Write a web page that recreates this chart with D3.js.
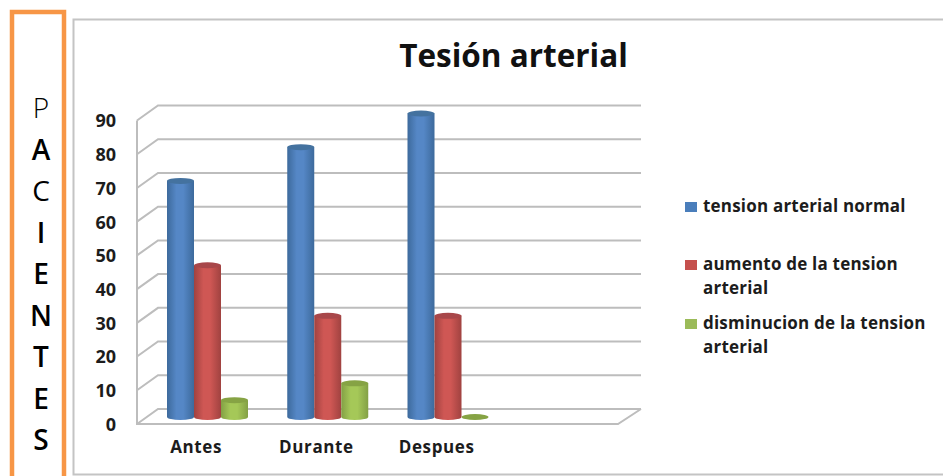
<!DOCTYPE html>
<html lang="es">
<head>
<meta charset="utf-8">
<title>Tesión arterial</title>
<script src="https://cdn.jsdelivr.net/npm/d3@7"></script>
<style>
  html, body { margin: 0; padding: 0; background: #fff; }
  svg { display: block; }
  text { font-family: "Open Sans", sans-serif; fill: #1c1c1c; }
</style>
</head>
<body>
<svg id="chart" width="943" height="476"></svg>
<script>
// Chart data
const categories = ["Antes", "Durante", "Despues", ""];
const seriesNames = ["tension arterial normal", "aumento de la tension arterial", "disminucion de la tension arterial"];
const normal = [70, 80, 90, null];
const aumento = [45, 30, 30, null];
const disminucion = [5, 10, 0, null];
const yTicks = [0, 10, 20, 30, 40, 50, 60, 70, 80, 90];
const sideLetters = ["P", "A", "C", "I", "E", "N", "T", "E", "S"];
const legendLines = [["tension arterial normal"], ["aumento de la tension", "arterial"], ["disminucion de la tension", "arterial"]];

const seriesValues = [normal, aumento, disminucion];
const palette = [
  { edge: "#3d6a9c", mid: "#5587c6", top: "#44729f", key: "#4a7ebb" },
  { edge: "#a04240", mid: "#cf5754", top: "#a8474a", key: "#c5504d" },
  { edge: "#83a045", mid: "#a5c858", top: "#86a344", key: "#9bbb59" }
];

const svg = d3.select("#chart");

// Perspective of the 3D box: the back wall sits up and to the right of the front plane
const depthX = 21, depthY = -15;
const barDepthX = 7.5, barDepthY = -7;

const y = d3.scaleLinear().domain([0, 90]).range([424, 120.5]);
const x = d3.scaleBand().domain(categories).range([137, 618]);
const xSeries = d3.scaleBand().domain(d3.range(seriesNames.length)).range([22.5, 103.5]);

// Side panel with the vertical label
svg.append("rect")
  .attr("x", 12).attr("y", 12).attr("width", 52).attr("height", 480)
  .attr("fill", "none").attr("stroke", "#f79646").attr("stroke-width", 4.5);

const letterRows = d3.scalePoint().domain(d3.range(sideLetters.length)).range([108, 440]);
svg.append("g").selectAll("text").data(sideLetters).join("text")
  .attr("x", 41)
  .attr("y", (d, i) => letterRows(i))
  .attr("dy", "0.36em")
  .attr("text-anchor", "middle")
  .attr("font-size", 28)
  .attr("font-weight", (d, i) => i === 0 ? 300 : i === 2 ? 400 : 600)
  .style("fill", "#000")
  .text(d => d);

// Chart frame
svg.append("path")
  .attr("d", "M945,19.5H73.5V474.5H945")
  .attr("fill", "none").attr("stroke", "#c4c4c4").attr("stroke-width", 2);

// Title
svg.append("text")
  .attr("x", 513.5).attr("y", 67)
  .attr("text-anchor", "middle")
  .attr("font-size", 31.5).attr("font-weight", 700)
  .style("fill", "#111")
  .text("Tesión arterial");

// Walls and floor
const grid = svg.append("g").attr("fill", "none").attr("stroke", "#bdbdbd").attr("stroke-width", 2);
const x0 = x.range()[0], x1 = x.range()[1];
grid.selectAll("path.wall").data(yTicks).join("path")
  .attr("class", "wall")
  .attr("d", d => `M${x0},${y(d)}L${x0 + depthX},${y(d) + depthY}H${x1 + depthX + 2}`);
grid.append("path").attr("d", `M${x0},${y(90)}V${y(0)}H${x1}L${x1 + depthX + 2},${y(0) + depthY}`);

// Cylinder shading
const defs = svg.append("defs");
palette.forEach((c, i) => {
  const g = defs.append("linearGradient").attr("id", `cyl${i}`);
  g.append("stop").attr("offset", "0%").attr("stop-color", c.edge);
  g.append("stop").attr("offset", "35%").attr("stop-color", c.mid);
  g.append("stop").attr("offset", "60%").attr("stop-color", c.mid);
  g.append("stop").attr("offset", "100%").attr("stop-color", c.edge);
});

const bars = categories.flatMap((cat, c) =>
  seriesValues.map((vals, s) => ({ cat, s, v: vals[c] })).filter(d => d.v !== null));

const rx = xSeries.bandwidth() / 2, ry = 3;
const bx = d => x(d.cat) + xSeries(d.s) + barDepthX;
const by = v => y(v) + barDepthY;

const barG = svg.append("g").selectAll("g").data(bars).join("g");
barG.filter(d => d.v > 0).append("path")
  .attr("fill", d => `url(#cyl${d.s})`)
  .attr("d", d => `M${bx(d)},${by(d.v)}V${by(0)}A${rx},${ry} 0 0 0 ${bx(d) + 2 * rx},${by(0)}V${by(d.v)}Z`);
barG.append("ellipse")
  .attr("cx", d => bx(d) + rx)
  .attr("cy", d => by(d.v))
  .attr("rx", rx).attr("ry", ry)
  .attr("fill", d => palette[d.s].top);

// Axis labels
const yAxis = svg.append("g")
  .attr("transform", "translate(116,1)")
  .call(d3.axisLeft(y).tickValues(yTicks).tickSize(0).tickPadding(0));
yAxis.select(".domain").remove();
yAxis.selectAll("text")
  .attr("font-size", 18).attr("font-weight", 700)
  .style("font-family", '"Open Sans", sans-serif').attr("dy", "0.3em");

const xAxis = svg.append("g")
  .attr("transform", "translate(-1,441)")
  .call(d3.axisBottom(x).tickValues(categories.filter(Boolean)).tickSize(0).tickPadding(0));
xAxis.select(".domain").remove();
xAxis.selectAll("text")
  .attr("font-size", 17).attr("font-weight", 700)
  .attr("letter-spacing", 0.6)
  .style("font-family", '"Open Sans", sans-serif').attr("dy", "0.71em");

// Legend
const legendY = d3.scalePoint().domain(d3.range(2)).range([0, 24]);
const legendTop = [206, 264, 323];
const legend = svg.append("g").selectAll("g").data(legendLines).join("g")
  .attr("transform", (d, i) => `translate(0,${legendTop[i]})`);
legend.append("rect")
  .attr("x", 685).attr("y", -4).attr("width", 12).attr("height", 10)
  .attr("fill", (d, i) => palette[i].key);
legend.selectAll("text").data(d => d).join("text")
  .attr("x", 703)
  .attr("y", (d, i) => legendY(i))
  .attr("dy", "0.33em")
  .attr("font-size", 17).attr("font-weight", 700)
  .attr("letter-spacing", 0.2)
  .text(d => d);
</script>
</body>
</html>
